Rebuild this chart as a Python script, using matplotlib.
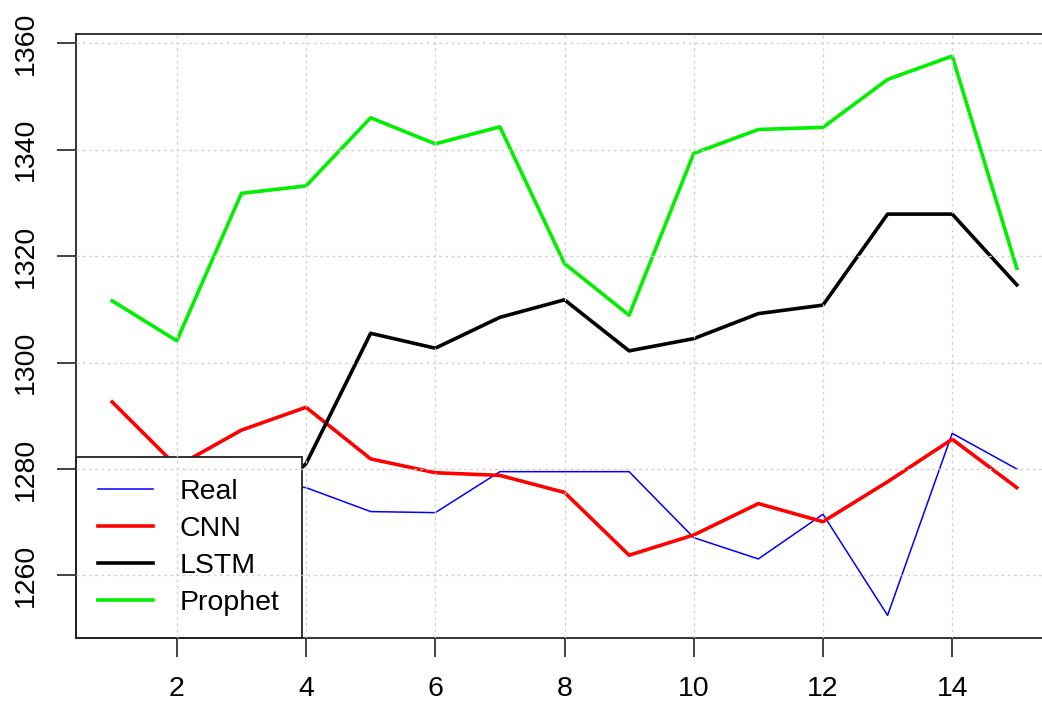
import matplotlib
matplotlib.use("Agg")
import matplotlib.pyplot as plt

# ---- data ----
x = list(range(1, 16))
real = [1279.0, 1276.0, 1278.0, 1276.5, 1272.0, 1271.8, 1279.5, 1279.5, 1279.5,
        1267.1, 1263.1, 1271.5, 1252.5, 1286.7, 1280.0]
cnn = [1292.6, 1280.5, 1287.3, 1291.6, 1281.9, 1279.3, 1278.8, 1275.6, 1263.8,
       1267.6, 1273.5, 1270.1, 1277.6, 1285.6, 1276.5]
lstm = [1272.0, 1275.0, 1270.0, 1281.0, 1305.5, 1302.7, 1308.5, 1311.8, 1302.2,
        1304.5, 1309.2, 1310.8, 1327.9, 1327.9, 1314.6]
prophet = [1311.6, 1304.1, 1331.8, 1333.2, 1346.0, 1341.1, 1344.3, 1318.6, 1308.9,
           1339.3, 1343.8, 1344.2, 1353.2, 1357.6, 1317.7]
labels = ["Real", "CNN", "LSTM", "Prophet"]
xticks = [2, 4, 6, 8, 10, 12, 14]
yticks = [1260, 1280, 1300, 1320, 1340, 1360]

plt.rcParams['font.family'] = ['Liberation Sans', 'DejaVu Sans']

fig = plt.figure(figsize=(10.42, 7.06), dpi=100)
W, H = 1042, 706
left, right, top, bottom = 76, 1053, 33.7, 637.7
ax = fig.add_axes([left / W, 1 - bottom / H, (right - left) / W, (bottom - top) / H])

ax.plot(x, real, color='#0000FF', lw=1.1, label=labels[0], zorder=2)
ax.plot(x, cnn, color='#FF0000', lw=2.6, label=labels[1], zorder=2)
ax.plot(x, lstm, color='#000000', lw=2.6, label=labels[2], zorder=2)
ax.plot(x, prophet, color='#00F000', lw=2.6, label=labels[3], zorder=2)

ax.set_xlim(0.44, 15.56)
ax.set_ylim(1248.3, 1361.8)
ax.set_xticks(xticks)
ax.set_yticks(yticks)

ax.set_axisbelow(False)
ax.grid(True, color='#d3d3d3', linestyle=(0, (2.0, 2.5)), linewidth=1.0)

for s in ['left', 'top', 'bottom', 'right']:
    ax.spines[s].set_linewidth(1.3)
    ax.spines[s].set_color('#222222')

ax.tick_params(axis='both', direction='out', length=13.5, width=1.2, color='#222222',
               labelsize=20.5)
ax.tick_params(axis='x', pad=14)
ax.tick_params(axis='y', pad=13)
for lab in ax.get_yticklabels():
    lab.set_rotation(90)
    lab.set_va('center')

leg = ax.legend(loc='lower left', bbox_to_anchor=(0, 0), borderaxespad=0,
                frameon=True, fancybox=False, edgecolor='#222222', framealpha=1,
                fontsize=20.5, handlelength=1.93, handletextpad=0.95,
                borderpad=0.77, labelspacing=0.38)
leg.get_frame().set_linewidth(1.3)
leg.set_zorder(2.2)

fig.savefig("out.png", dpi=100)
